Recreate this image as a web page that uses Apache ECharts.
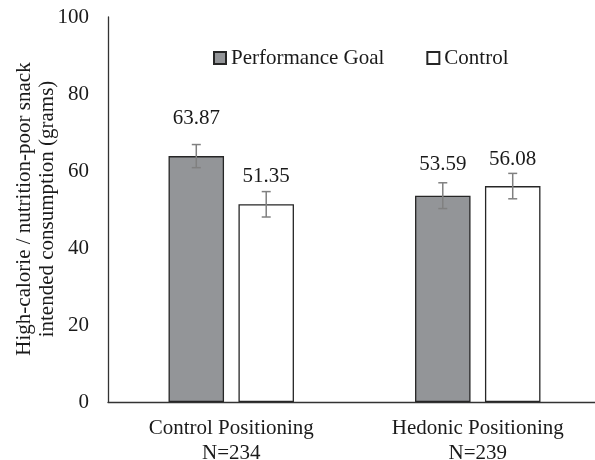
<!DOCTYPE html>
<html>
<head>
<meta charset="utf-8">
<script src="https://cdn.jsdelivr.net/npm/echarts@6/dist/echarts.min.js"></script>
<style>html,body{margin:0;padding:0;background:#fff}#c{width:595px;height:460px}</style>
</head>
<body>
<div id="c"></div>
<script>
const categories = ['Control Positioning\nN=234', 'Hedonic Positioning\nN=239'];
const seriesNames = ['Performance Goal', 'Control'];
const perfValues = [63.87, 53.59];
const ctrlValues = [51.35, 56.08];
const perfErrors = [3.0, 3.35];
const ctrlErrors = [3.3, 3.3];
const yTicks = [0, 20, 40, 60, 80, 100];

// styling constants (not data)
const FONT = '"Liberation Serif", "Times New Roman", serif';
const FS = 21;
const BAR_W = 55.5;
const GAP_PCT = 0.26;
const perfLabelGap = [27.5, 20.5];
const ctrlLabelGap = [17, 16];

const chart = echarts.init(document.getElementById('c'), null, {renderer: 'canvas'});

function errSeries(values, errors, sign) {
  const offset = sign * (BAR_W + BAR_W * GAP_PCT) / 2;
  return {
    type: 'custom',
    z: 10,
    silent: true,
    data: values.map((v, i) => [i, v, errors[i]]),
    renderItem: function (params, api) {
      const i = api.value(0), v = api.value(1), e = api.value(2);
      const hi = api.coord([i, v + e]);
      const lo = api.coord([i, v - e]);
      const x = hi[0] + offset;
      const cap = 4.5;
      const st = {stroke: '#808080', lineWidth: 1.5};
      return {
        type: 'group',
        children: [
          {type: 'line', shape: {x1: x, y1: hi[1], x2: x, y2: lo[1]}, style: st},
          {type: 'line', shape: {x1: x - cap, y1: hi[1], x2: x + cap, y2: hi[1]}, style: st},
          {type: 'line', shape: {x1: x - cap, y1: lo[1], x2: x + cap, y2: lo[1]}, style: st}
        ]
      };
    }
  };
}

const option = {
  animation: false,
  backgroundColor: '#ffffff',
  textStyle: {fontFamily: FONT},
  grid: {left: 108, right: -6, top: 17, bottom: 58, containLabel: false, outerBoundsMode: 'none'},
  legend: {
    left: 213, top: 47.5, padding: 0,
    itemWidth: 12, itemHeight: 12, itemGap: 42,
    icon: 'rect',
    data: seriesNames,
    textStyle: {fontFamily: FONT, fontSize: FS, color: '#1a1a1a'}
  },
  xAxis: {
    type: 'category',
    data: categories,
    axisLine: {lineStyle: {color: '#333', width: 1.3}},
    axisTick: {show: false},
    axisLabel: {fontFamily: FONT, fontSize: FS, color: '#1a1a1a', lineHeight: 25, margin: 14, interval: 0}
  },
  yAxis: {
    type: 'value',
    min: yTicks[0], max: yTicks[yTicks.length - 1], interval: 20,
    axisLine: {show: true, lineStyle: {color: '#333', width: 1.3}},
    axisTick: {show: false},
    splitLine: {show: false},
    axisLabel: {fontFamily: FONT, fontSize: FS, color: '#1a1a1a', margin: 19}
  },
  graphic: [{
    type: 'text',
    x: 36, y: 209,
    rotation: Math.PI / 2,
    style: {
      text: 'High-calorie / nutrition-poor snack\nintended consumption (grams)',
      font: '21px ' + FONT,
      fill: '#1a1a1a',
      align: 'center',
      verticalAlign: 'middle',
      lineHeight: 23
    }
  }],
  series: [
    {
      name: seriesNames[0],
      type: 'bar',
      barWidth: BAR_W,
      barGap: (GAP_PCT * 100) + '%',
      itemStyle: {color: '#939598', borderColor: '#262626', borderWidth: 1.3},
      data: perfValues.map((v, i) => ({value: v, label: {distance: perfLabelGap[i]}})),
      label: {show: true, position: 'top', fontFamily: FONT, fontSize: FS, color: '#1a1a1a',
        formatter: p => p.value.toFixed(2)}
    },
    {
      name: seriesNames[1],
      type: 'bar',
      barWidth: BAR_W,
      barGap: (GAP_PCT * 100) + '%',
      itemStyle: {color: '#ffffff', borderColor: '#262626', borderWidth: 1.3},
      data: ctrlValues.map((v, i) => ({value: v, label: {distance: ctrlLabelGap[i]}})),
      label: {show: true, position: 'top', fontFamily: FONT, fontSize: FS, color: '#1a1a1a',
        formatter: p => p.value.toFixed(2)}
    },
    errSeries(perfValues, perfErrors, -1),
    errSeries(ctrlValues, ctrlErrors, 1)
  ]
};
chart.setOption(option);
</script>
</body>
</html>
